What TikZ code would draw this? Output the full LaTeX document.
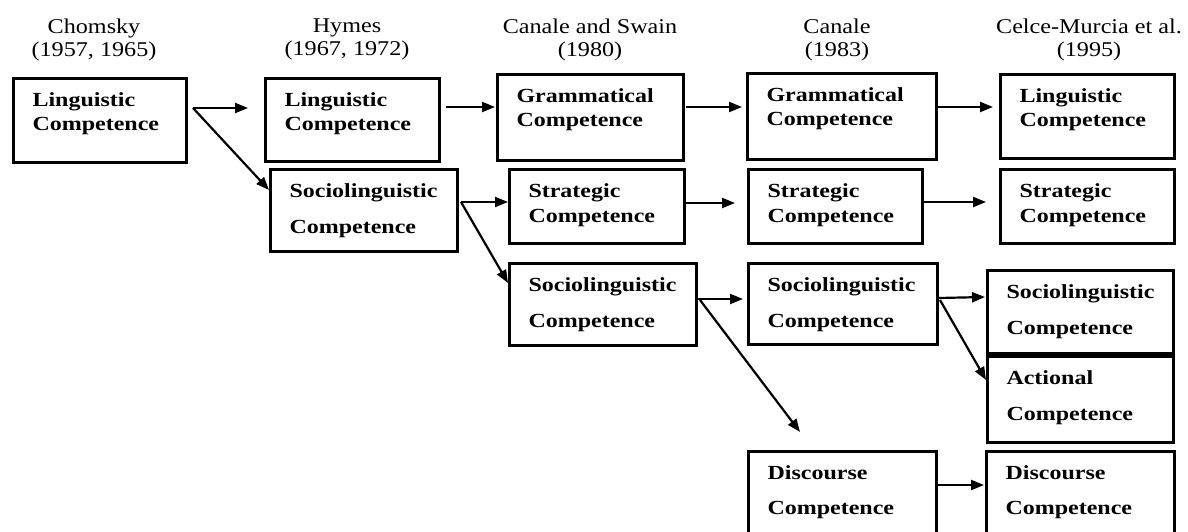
\documentclass[tikz,border=0pt]{standalone}
\usepackage{fontspec}
\newfontfamily\headfont[FakeStretch=1.15]{Liberation Serif}
\newfontfamily\compfont[FakeStretch=1.2]{Liberation Serif}
\usetikzlibrary{arrows.meta}
\tikzset{
  comp/.style={draw, line width=3pt, inner sep=0pt, anchor=north west},
  head/.style={anchor=north, align=center, inner sep=0pt,
    font=\headfont\fontsize{21}{23}\selectfont},
  arr/.style={line width=2.2pt, -{Triangle[length=13pt,width=10pt]}}}
\newcommand\comptext[4]{\parbox[c][#2pt][t]{#1pt}{\compfont\bfseries
  \fontsize{20}{#3}\selectfont\leftskip=19pt\rule{0pt}{28pt}#4}}

\begin{document}
\begin{tikzpicture}[x=1pt, y=-1pt]
\useasboundingbox (0,0) rectangle (1188,532);
\clip (0,0) rectangle (1188,532);
\foreach \x/\name/\ta/\tb in {94/chom/Chomsky/{(1957, 1965)},
  347/hym/Hymes/{(1967, 1972)}, 590/cs/Canale and Swain/{(1980)},
  837/ca/Canale/{(1983)}, 1089/cm/Celce-Murcia et al./{(1995)}}
  \node[head] (hd-\name) at (\x,19) {\ta\\\tb};

\node[comp] (chom) at (12,77) {\comptext{173}{84}{24.5}{Linguistic\\Competence}};
\node[comp] (hymLing) at (264,77) {\comptext{174}{83}{24.5}{Linguistic\\Competence}};
\node[comp] (hymSoc) at (269,168) {\comptext{187}{82}{35.5}{Sociolinguistic\\Competence}};
\node[comp] (csGram) at (496,73) {\comptext{186}{86}{24.5}{Grammatical\\Competence}};
\node[comp] (csStrat) at (508,168) {\comptext{175}{74}{24.5}{Strategic\\Competence}};
\node[comp] (csSoc) at (508,262) {\comptext{187}{82}{36}{Sociolinguistic\\Competence}};
\node[comp] (caGram) at (746,72) {\comptext{189}{86}{24.5}{Grammatical\\Competence}};
\node[comp] (caStrat) at (747,168) {\comptext{174}{74}{24.5}{Strategic\\Competence}};
\node[comp] (caSoc) at (747,262) {\comptext{189}{81}{36}{Sociolinguistic\\Competence}};
\node[comp] (caDisc) at (747,450) {\comptext{188}{110}{35}{Discourse\\Competence}};
\node[comp] (cmLing) at (999,73) {\comptext{174}{84}{24.5}{Linguistic\\Competence}};
\node[comp] (cmStrat) at (999,168) {\comptext{174}{74}{24.5}{Strategic\\Competence}};
\node[comp] (cmSoc) at (986,269) {\comptext{186}{83}{36}{Sociolinguistic\\Competence}};
\node[comp] (cmAct) at (986,355) {\comptext{186}{86}{36}{Actional\\Competence}};
\node[comp] (cmDisc) at (985,450) {\comptext{188}{110}{35}{Discourse\\Competence}};
\coordinate (discIn) at ([shift={(53,-18)}]caDisc.north west);

\draw[arr] ([shift={(5,31)}]chom.north east) -- ([shift={(-16,31)}]hymLing.north west);
\draw[arr] ([shift={(5,31)}]chom.north east) -- ([shift={(0,22)}]hymSoc.north west);
\draw[arr] ([shift={(5,30)}]hymLing.north east) -- ([shift={(-1,34)}]csGram.north west);
\draw[arr] ([shift={(2,34)}]hymSoc.north east) -- ([shift={(0,34)}]csStrat.north west);
\draw[arr] ([shift={(2,34)}]hymSoc.north east) -- ([shift={(0,21)}]csSoc.north west);
\draw[arr] ([shift={(1,34)}]csGram.north east) -- ([shift={(-4,35)}]caGram.north west);
\draw[arr] ([shift={(0,35)}]csStrat.north east) -- ([shift={(-12,35)}]caStrat.north west);
\draw[arr] ([shift={(0,37)}]csSoc.north east) -- ([shift={(-4,37)}]caSoc.north west);
\draw[arr] ([shift={(2,38)}]csSoc.north east) -- (discIn);
\draw[arr] ([shift={(0,35)}]caGram.north east) -- ([shift={(-6,34)}]cmLing.north west);
\draw[arr] ([shift={(0,34)}]caStrat.north east) -- ([shift={(-13,34)}]cmStrat.north west);
\draw[arr] ([shift={(0,36)}]caSoc.north east) -- ([shift={(-1,28)}]cmSoc.north west);
\draw[arr] ([shift={(1,38)}]caSoc.north east) -- ([shift={(0,25)}]cmAct.north west);
\draw[arr] ([shift={(0,35)}]caDisc.north east) -- ([shift={(-1,35)}]cmDisc.north west);
\end{tikzpicture}
\end{document}
